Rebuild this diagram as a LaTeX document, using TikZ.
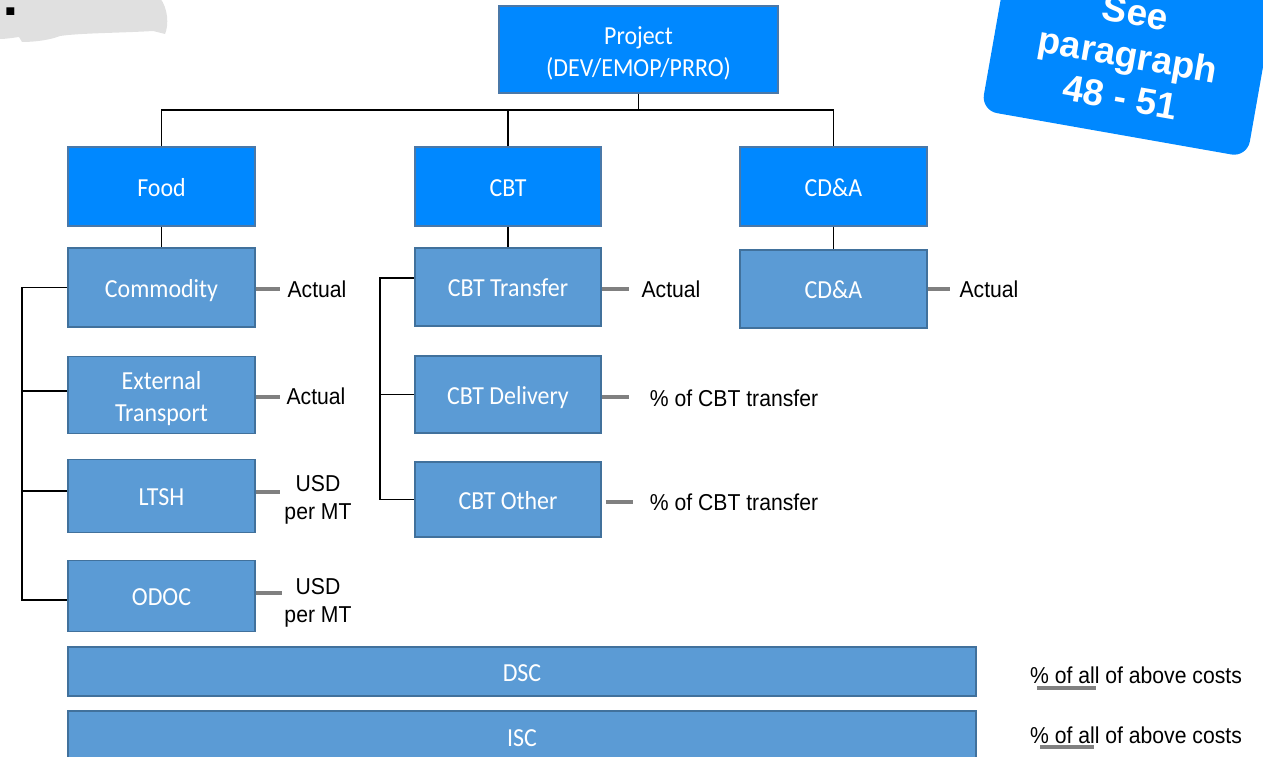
\documentclass[tikz,border=0pt]{standalone}
\usepackage{fontspec}
\newfontfamily\boxfont[FakeStretch=0.92]{Carlito}
\newfontfamily\lblfont[FakeStretch=0.92]{Liberation Sans}
\newfontfamily\notefont{Liberation Sans}

\definecolor{topblue}{HTML}{0088FF}
\definecolor{topedge}{HTML}{4A78A8}
\definecolor{subblue}{HTML}{5B9BD5}
\definecolor{subedge}{HTML}{41719C}
\definecolor{stubgray}{HTML}{808080}
\definecolor{blobgray}{HTML}{E0E0E0}

\begin{document}
\begin{tikzpicture}[x=1pt,y=-1pt,
  boxtext/.style={text=white, align=center, inner sep=0pt,
    font=\boxfont\fontsize{26}{32}\selectfont},
  oneline/.style={text height=19pt, text depth=0pt},
  topbox/.style={boxtext, oneline, draw=topedge, line width=1.2pt, fill=topblue,
    minimum width=187pt, minimum height=79pt},
  subbox/.style={boxtext, oneline, draw=subedge, line width=1.6pt, fill=subblue,
    minimum width=187pt, minimum height=78pt},
  twolines/.style={label={[boxtext, yshift=-4pt]center:{#1}}},
  wire/.style={draw=black, line width=1.4pt},
  stub/.style={draw=stubgray, line width=4pt},
  lbl/.style={font=\lblfont\fontsize{23}{28}\selectfont, text=black,
    align=center, inner sep=0pt},
  notebox/.style={fill=topblue, rounded corners=16pt, text=white,
    align=center, inner sep=0pt, minimum width=270pt, minimum height=160pt,
    font=\notefont\bfseries\fontsize{37}{43}\selectfont}
]
\useasboundingbox (0,0) rectangle (1263,757);
\begin{scope}
\clip (0,0) rectangle (1263,757);

% grey speech shape with the end of a heading, top left
\fill[blobgray] (0,-2) -- (160,-2) .. controls (168,8) and (169,25) .. (165,34)
  -- (153,31) .. controls (120,33) and (80,33) .. (60,36)
  .. controls (50,40) and (35,42) .. (22,42) -- (19,37)
  .. controls (12,38) and (5,39) .. (0,39) -- cycle;
\node[anchor=base east, inner sep=0pt, font=\notefont\bfseries\fontsize{56}{56}\selectfont]
  (head) at (19.9,15.5) {y:};

% note box
\node[notebox, rotate=-10] (note) at (1128,55) {See\\paragraph\\48 - 51};

% tree boxes
\node[topbox, minimum width=279pt, minimum height=87pt,
  twolines={Project\\(DEV/EMOP/PRRO)}] (project) at (638.5,49.5) {};
\node[topbox] (food) at (161.5,186.5) {Food};
\node[topbox, minimum width=186pt] (cbt) at (508,186.5) {CBT};
\node[topbox] (cda) at (833.5,186.5) {CD\&A};

\node[subbox, minimum height=79pt] (comm) at (161.5,287.5) {Commodity};
\node[subbox, minimum height=77pt,
  twolines={External\\Transport}] (ext) at (161.5,395) {};
\node[subbox, minimum height=73pt] (ltsh) at (161.5,496) {LTSH};
\node[subbox, minimum height=71pt] (odoc) at (161.5,596) {ODOC};

\node[subbox, minimum width=186pt] (cbttr) at (508,287) {CBT Transfer};
\node[subbox, minimum width=186pt, minimum height=77pt] (cbtdel) at (508,394.5) {CBT Delivery};
\node[subbox, minimum width=186pt, minimum height=75pt] (cbtoth) at (508,499.5) {CBT Other};

\node[subbox] (cda2) at (833.5,289) {CD\&A};

\node[subbox, minimum width=908pt, minimum height=49pt] (dsc) at (522,671.5) {DSC};
\node[subbox, minimum width=908pt, minimum height=51pt] (isc) at (522,736.5) {ISC};

% tree connectors
\coordinate (busy) at (0,110);
\draw[wire] (project.south) -- (project.south |- busy);
\draw[wire] (food.north) -- (food.north |- busy) -- (cda.north |- busy) -- (cda.north);
\draw[wire] (cbt.north) -- (cbt.north |- busy);
\draw[wire] (food.south) -- (comm.north);
\draw[wire] (cbt.south) -- (cbttr.north);
\draw[wire] (cda.south) -- (cda2.north);

% food bracket
\coordinate (ltrunk) at (22,0);
\coordinate (extin) at ([yshift=4pt]ext.west);
\coordinate (ltshin) at ([yshift=5pt]ltsh.west);
\coordinate (odocin) at ([yshift=-4pt]odoc.west);
\draw[wire] (comm.west) -- (ltrunk |- comm.west) -- (ltrunk |- odocin) -- (odocin);
\draw[wire] (extin) -- (ltrunk |- extin);
\draw[wire] (ltshin) -- (ltrunk |- ltshin);

% CBT bracket
\coordinate (ctrunk) at (380,0);
\coordinate (trin) at ([yshift=9pt]cbttr.west);
\draw[wire] (trin) -- (ctrunk |- trin) -- (ctrunk |- cbtoth.west) -- (cbtoth.west);
\draw[wire] (cbtdel.west) -- (ctrunk |- cbtdel.west);

% cost basis stubs
\draw[stub] ([yshift=-1.5pt]comm.east) -- ++(24,0);
\draw[stub] ([yshift=-2pt]ext.east) -- ++(24,0);
\draw[stub] ([yshift=4pt]ltsh.east) -- ++(24,0);
\draw[stub] ([yshift=3pt]odoc.east) -- ++(26,0);
\draw[stub] ([yshift=-2pt]cbttr.east) -- ++(27,0);
\draw[stub] ([yshift=-2.5pt]cbtdel.east) -- ++(27,0);
\draw[stub] ([shift={(4pt,-2.5pt)}]cbtoth.east) -- ++(27,0);
\draw[stub] (cda2.east) -- ++(22,0);

% cost basis labels
\node[lbl] (commlab) at (317,289) {Actual};
\node[lbl] (extlab) at (316,396) {Actual};
\node[lbl] (ltshlab) at (318,500) {USD\\per MT};
\node[lbl] (odoclab) at (318,603) {USD\\per MT};
\node[lbl] (trlab) at (671,289) {Actual};
\node[lbl] (dellab) at (734,398) {\% of CBT transfer};
\node[lbl] (othlab) at (734,502) {\% of CBT transfer};
\node[lbl] (cdalab) at (989,289) {Actual};
\node[lbl] (dsclab) at (1136,675.5) {\% of all of above costs};
\node[lbl] (isclab) at (1136,735.5) {\% of all of above costs};
\draw[stub] ([shift={(7pt,-12.5pt)}]dsclab.west) -- ++(59,0);
\draw[stub] ([shift={(10pt,-11.5pt)}]isclab.west) -- ++(54,0);
\end{scope}
\end{tikzpicture}
\end{document}
